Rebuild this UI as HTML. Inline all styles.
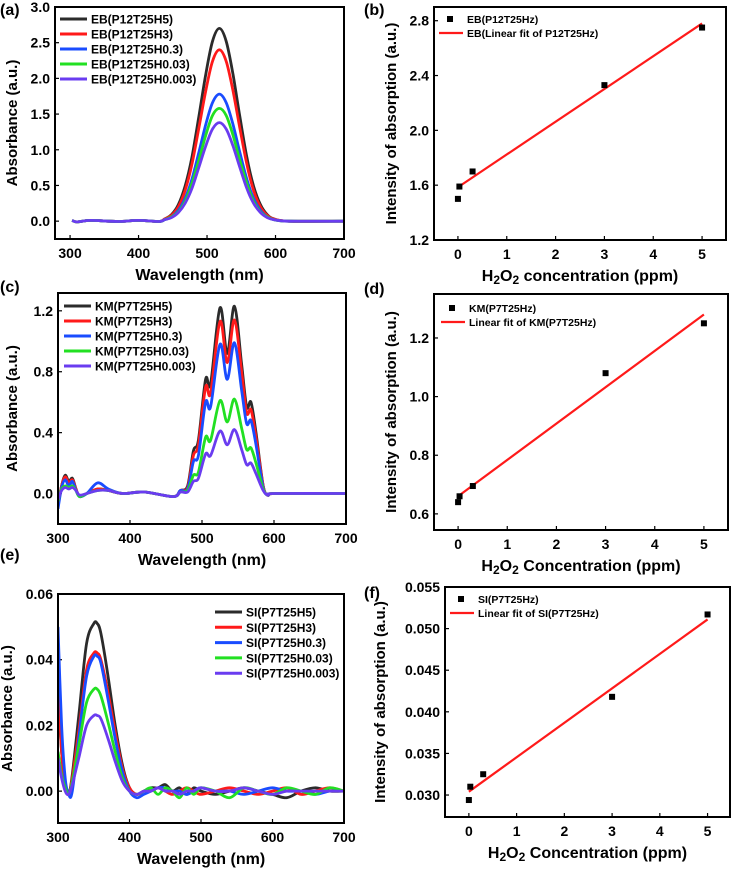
<!DOCTYPE html>
<html><head><meta charset="utf-8"><style>
body{margin:0;background:#fff}
svg{display:block;font-family:"Liberation Sans",sans-serif;font-weight:bold}
</style></head><body>
<svg id="fig" width="734" height="869" viewBox="0 0 734 869" xmlns="http://www.w3.org/2000/svg"></svg>
<script>
// ---- data ----
const colors=['#2b2b2b','#ff1a1a','#1a4cff','#22e022','#6a3cf0'];
const aNames=['EB(P12T25H5)','EB(P12T25H3)','EB(P12T25H0.3)','EB(P12T25H0.03)','EB(P12T25H0.003)'];
const aWl=[303,310,330,370,400,430,438,448,458,468,478,488,498,508,518,528,538,548,558,568,578,588,598,620,700];
const aH5=[0.01,-0.01,0.01,-0.005,0.01,-0.005,0.03,0.09,0.23,0.49,0.90,1.46,2.05,2.52,2.70,2.52,2.05,1.46,0.90,0.49,0.23,0.09,0.03,0,0];
const aH3=[0.01,-0.01,0.01,-0.005,0.01,-0.005,0.03,0.08,0.20,0.43,0.80,1.30,1.82,2.24,2.40,2.24,1.82,1.30,0.80,0.43,0.20,0.08,0.03,0,0];
const aH03=[0.01,-0.01,0.01,-0.005,0.01,-0.005,0.02,0.06,0.15,0.32,0.59,0.96,1.35,1.66,1.78,1.66,1.35,0.96,0.59,0.32,0.15,0.06,0.02,0,0];
const aH003=[0.01,-0.01,0.01,-0.005,0.01,-0.005,0.02,0.06,0.13,0.28,0.53,0.85,1.20,1.48,1.58,1.48,1.20,0.85,0.53,0.28,0.13,0.06,0.02,0,0];
const aH0003=[0.01,-0.01,0.01,-0.005,0.01,-0.005,0.02,0.05,0.12,0.25,0.46,0.75,1.05,1.29,1.38,1.29,1.05,0.75,0.46,0.25,0.12,0.05,0.02,0,0];
const aYTicks=['0.0','0.5','1.0','1.5','2.0','2.5','3.0'];

const cNames=['KM(P7T25H5)','KM(P7T25H3)','KM(P7T25H0.3)','KM(P7T25H0.03)','KM(P7T25H0.003)'];
const cWl=[300,305,310,315,320,325,330,340,355,370,390,420,460,470,480,488,495,505,512,525,535,545,555,562,568,575,585,592,600,700];
const cH5=[-0.08,0.05,0.12,0.08,0.1,0.03,-0.02,0,0.03,0.02,0,0.01,-0.02,0.02,0.05,0.28,0.35,0.75,0.72,1.22,0.92,1.23,0.85,0.57,0.60,0.40,0.05,-0.01,0,0];
const cH3=[-0.08,0.05,0.11,0.07,0.09,0.03,-0.02,0,0.03,0.02,0,0.01,-0.02,0.02,0.04,0.25,0.32,0.70,0.66,1.13,0.86,1.14,0.80,0.53,0.55,0.37,0.05,-0.01,0,0];
const cH03=[-0.1,0.04,0.09,0.05,0.08,0.02,-0.02,0,0.07,0.03,0,0.01,-0.02,0.02,0.03,0.21,0.25,0.60,0.57,0.98,0.75,0.99,0.68,0.46,0.48,0.32,0.04,-0.01,0,0];
const cH003=[-0.05,0.03,0.05,0.04,0.05,0.02,-0.02,0,0.02,0.02,0,0.01,-0.02,0.01,0.02,0.12,0.14,0.37,0.35,0.61,0.47,0.62,0.43,0.29,0.30,0.20,0.03,-0.01,0,0];
const cH0003=[-0.04,0.02,0.04,0.03,0.04,0.02,-0.01,0,0.02,0.02,0,0.01,-0.02,0.01,0.01,0.08,0.10,0.26,0.25,0.41,0.32,0.42,0.29,0.19,0.20,0.13,0.02,-0.01,0,0];
const cYTicks=['0.0','0.4','0.8','1.2'];

const eNames=['SI(P7T25H5)','SI(P7T25H3)','SI(P7T25H0.3)','SI(P7T25H0.03)','SI(P7T25H0.003)'];
const eWl=[300,305,310,315,320,330,340,350,355,360,370,380,390,400,410,420,430,440,450,460,470,480,490,500,520,540,560,580,600,620,640,660,680,700];
const eH5=[0.03,0.012,0.002,-0.001,0.005,0.025,0.045,0.051,0.051,0.048,0.035,0.02,0.008,0.001,-0.001,0,0.001,0.001,0.002,0,0.001,-0.001,0.001,0,-0.001,0,0.001,0,-0.001,-0.002,0,0.001,0,0];
const eH3=[0.035,0.012,0.002,-0.001,0.004,0.02,0.037,0.042,0.042,0.04,0.03,0.018,0.007,0.001,-0.001,0,0,0.001,0,-0.001,0,0.001,0,-0.001,0,0.001,0,-0.001,0,0.001,-0.001,0,0.001,0];
const eH03=[0.05,0.02,0.004,-0.001,0,0.018,0.035,0.041,0.041,0.039,0.028,0.016,0.006,0,-0.002,-0.001,0,0.001,0.001,0,0,-0.001,0,0.001,0,0,-0.001,0,0.001,0,0,-0.001,0,0];
const eH003=[0.012,0.005,0.001,-0.001,0.003,0.015,0.027,0.031,0.031,0.029,0.021,0.012,0.004,0,-0.001,0,0.001,-0.001,0.001,0,-0.002,0.001,-0.001,0.001,0,-0.002,0.001,0,-0.001,0.001,0,-0.001,0.001,0];
const eH0003=[0.01,0.004,0,-0.001,0.002,0.011,0.02,0.023,0.023,0.022,0.016,0.009,0.003,0,-0.001,0,0,0.001,0,0,-0.001,0,0,0.001,0,0,0.001,0,-0.001,0,0,0,0,0];
const eYTicks=['0.00','0.02','0.04','0.06'];

const concX=[0,0.03,0.3,3,5];
const bVals=[1.5,1.59,1.7,2.33,2.75];
const bFit=[1.585,2.78];
const dVals=[0.64,0.66,0.695,1.08,1.25];
const dFit=[0.66,1.28];
const fVals=[0.0294,0.031,0.0325,0.0418,0.0517];
const fFit=[0.0304,0.0511];
const concTicks=['0','1','2','3','4','5'];
const bYTicks=['1.2','1.6','2.0','2.4','2.8'];
const dYTicks=['0.6','0.8','1.0','1.2'];
const fYTicks=['0.030','0.035','0.040','0.045','0.050','0.055'];

// ---- drawing ----
const svg=document.getElementById('fig');
const NS='http://www.w3.org/2000/svg';
function mk(tag,attrs,parent,name){const e=document.createElementNS(NS,tag);for(const k in attrs)e.setAttribute(k,attrs[k]);


(parent||svg).appendChild(e);return e;}
function txt(s,x,y,size,anchor,parent,name){const t=mk('text',{x:x,y:y,'font-size':size,'text-anchor':anchor||'middle'},parent,name);t.textContent=s;return t;}
function smooth(p){let d='M'+p[0][0].toFixed(1)+' '+p[0][1].toFixed(1);
  for(let i=0;i<p.length-1;i++){const p0=p[i-1]||p[i],p1=p[i],p2=p[i+1],p3=p[i+2]||p2;
    const c1=[p1[0]+(p2[0]-p0[0])/6,p1[1]+(p2[1]-p0[1])/6],c2=[p2[0]-(p3[0]-p1[0])/6,p2[1]-(p3[1]-p1[1])/6];
    d+=' C'+c1[0].toFixed(1)+' '+c1[1].toFixed(1)+' '+c2[0].toFixed(1)+' '+c2[1].toFixed(1)+' '+p2[0].toFixed(1)+' '+p2[1].toFixed(1);}
  return d;}

function panel(o){
  const g=mk('g',{},svg,o.id);
  const sx=v=>o.x0+(v-o.xmin)/(o.xmax-o.xmin)*(o.x1-o.x0);
  const sy=v=>o.y1-(v-o.ymin)/(o.ymax-o.ymin)*(o.y1-o.y0);
  o.xt.forEach(s=>{const v=parseFloat(s);const X=sx(v);
    mk('line',{x1:X,x2:X,y1:o.y1,y2:o.y1-4,stroke:'#000','stroke-width':1.2},g,'x-tick');
    txt(s,X,o.y1+19,14,'middle',g,'x-tick-label');});
  o.yt.forEach(s=>{const v=parseFloat(s);const Y=sy(v);
    mk('line',{x1:o.x0,x2:o.x0+4,y1:Y,y2:Y,stroke:'#000','stroke-width':1.2},g,'y-tick');
    txt(s,o.x0-5,Y+5,14,'end',g,'y-tick-label');});
  const clip=mk('clipPath',{id:'c'+o.id},g,'clip');
  mk('rect',{x:o.x0,y:o.y0,width:o.x1-o.x0,height:o.y1-o.y0},clip,'clip-rect');
  const pg=mk('g',{'clip-path':'url(#c'+o.id+')'},g,'plot-area');
  if(o.series){o.series.forEach((ys,i)=>{
    const pts=ys.map((v,j)=>[sx(o.wl[j]),sy(v)]);
    mk('path',{d:smooth(pts),fill:'none',stroke:colors[i],'stroke-width':2.8,'stroke-linejoin':'round'},pg,'series-'+o.names[i]);
  });
  o.names.forEach((n,i)=>{const Y=o.ly+i*o.lsp;
    mk('line',{x1:o.lx,x2:o.lx+27,y1:Y,y2:Y,stroke:colors[i],'stroke-width':3},g,'legend-line');
    txt(n,o.lx+31,Y+4.5,12,'start',g,'legend-entry');});
  }
  if(o.vals){
    mk('line',{x1:sx(0),y1:sy(o.fit[0]),x2:sx(5),y2:sy(o.fit[1]),stroke:'#ff1a1a','stroke-width':2.2},pg,'fit-line');
    o.vals.forEach((v,i)=>mk('rect',{x:sx(concX[i])-3,y:sy(v)-3,width:6,height:6,fill:'#000'},pg,'data-point'));
    mk('rect',{x:o.lx+8,y:o.ly-3,width:6,height:6,fill:'#000'},g,'legend-marker');
    txt(o.names[0],o.lx+28,o.ly+4,10.5,'start',g,'legend-entry');
    mk('line',{x1:o.lx,x2:o.lx+24,y1:o.ly+14,y2:o.ly+14,stroke:'#ff1a1a','stroke-width':2.2},g,'legend-line');
    txt(o.names[1],o.lx+28,o.ly+18,10.5,'start',g,'legend-entry');
  }
  mk('rect',{x:o.x0,y:o.y0,width:o.x1-o.x0,height:o.y1-o.y0,fill:'none',stroke:'#000','stroke-width':2},g,'plot-frame');
  const xt=txt('',(o.x0+o.x1)/2,o.y1+41,16,'middle',g,'x-axis-title');
  if(o.h2o){xt.innerHTML='H<tspan font-size="12" dy="3">2</tspan><tspan dy="-3">O</tspan><tspan font-size="12" dy="3">2</tspan><tspan dy="-3"> '+o.xtitle+'</tspan>';}
  else xt.textContent=o.xtitle;
  const yt=txt(o.ytitle,0,0,15,'middle',g,'y-axis-title');
  yt.setAttribute('transform','translate('+o.ytx+','+((o.y0+o.y1)/2)+') rotate(-90)');
  txt(o.label,o.lab[0],o.lab[1],16,'start',g,'panel-label');
}

panel({id:'panel-a',x0:55,x1:344,y0:7,y1:239,xmin:278,xmax:700,ymin:-0.25,ymax:3.0,xt:['300','400','500','600','700'],yt:aYTicks,
 wl:aWl,series:[aH5,aH3,aH03,aH003,aH0003],names:aNames,lx:60,ly:19,lsp:15,xtitle:'Wavelength (nm)',ytitle:'Absorbance (a.u.)',ytx:17,label:'(a)',lab:[0,15]});
panel({id:'panel-b',x0:434,x1:726,y0:7,y1:240,xmin:-0.49,xmax:5.49,ymin:1.2,ymax:2.9,xt:concTicks,yt:bYTicks,
 vals:bVals,fit:bFit,names:['EB(P12T25Hz)','EB(Linear fit of P12T25Hz)'],lx:439,ly:19,h2o:true,xtitle:'concentration (ppm)',ytitle:'Intensity of absorption (a.u.)',ytx:396,label:'(b)',lab:[364,15]});
panel({id:'panel-c',x0:58,x1:346,y0:293,y1:524,xmin:300,xmax:700,ymin:-0.2,ymax:1.317,xt:['300','400','500','600','700'],yt:cYTicks,
 wl:cWl,series:[cH5,cH3,cH03,cH003,cH0003],names:cNames,lx:64,ly:306,lsp:15,xtitle:'Wavelength (nm)',ytitle:'Absorbance (a.u.)',ytx:17,label:'(c)',lab:[0,292]});
panel({id:'panel-d',x0:434,x1:728,y0:294,y1:530,xmin:-0.49,xmax:5.49,ymin:0.545,ymax:1.35,xt:concTicks,yt:dYTicks,
 vals:dVals,fit:dFit,names:['KM(P7T25Hz)','Linear fit of KM(P7T25Hz)'],lx:441,ly:308,h2o:true,xtitle:'Concentration (ppm)',ytitle:'Intensity of absorption (a.u.)',ytx:396,label:'(d)',lab:[364,294]});
panel({id:'panel-e',x0:58,x1:344,y0:594,y1:823,xmin:300,xmax:700,ymin:-0.0097,ymax:0.06,xt:['300','400','500','600','700'],yt:eYTicks,
 wl:eWl,series:[eH5,eH3,eH03,eH003,eH0003],names:eNames,lx:215,ly:612,lsp:15.3,xtitle:'Wavelength (nm)',ytitle:'Absorbance (a.u.)',ytx:12,label:'(e)',lab:[0,560]});
panel({id:'panel-f',x0:445,x1:730,y0:587,y1:817,xmin:-0.5,xmax:5.47,ymin:0.02736,ymax:0.055,xt:concTicks,yt:fYTicks,
 vals:fVals,fit:fFit,names:['SI(P7T25Hz)','Linear fit of SI(P7T25Hz)'],lx:450,ly:599,h2o:true,xtitle:'Concentration (ppm)',ytitle:'Intensity of absorption (a.u.)',ytx:385,label:'(f)',lab:[364,598]});
</script>
</body></html>
